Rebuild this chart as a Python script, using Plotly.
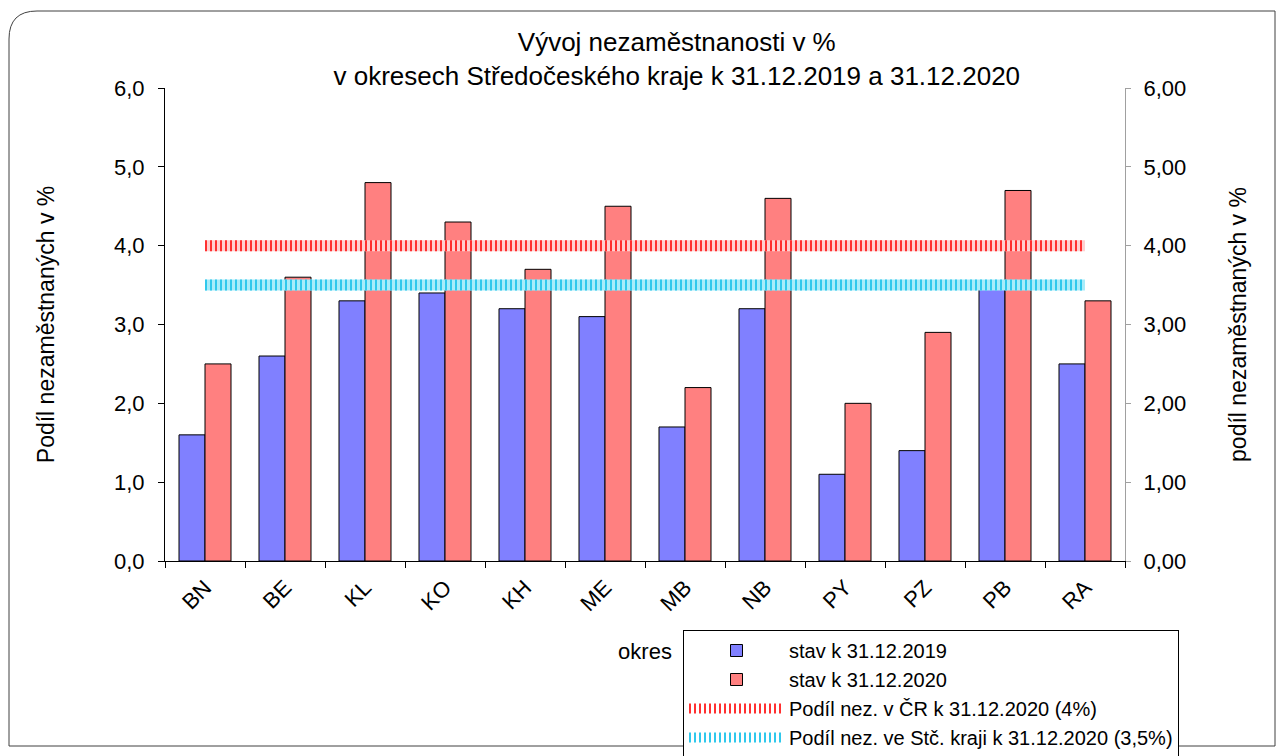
import plotly.graph_objects as go

okresy = ["BN", "BE", "KL", "KO", "KH", "ME", "MB", "NB", "PY", "PZ", "PB", "RA"]
stav_2019 = [1.6, 2.6, 3.3, 3.4, 3.2, 3.1, 1.7, 3.2, 1.1, 1.4, 3.5, 2.5]
stav_2020 = [2.5, 3.6, 4.8, 4.3, 3.7, 4.5, 2.2, 4.6, 2.0, 2.9, 4.7, 3.3]
podil_cr = [4.0] * len(okresy)
podil_stc = [3.5] * len(okresy)

FONT = "Liberation Sans, Arial, sans-serif"

fig = go.Figure()
fig.add_trace(go.Bar(x=okresy, y=stav_2019, name="stav k 31.12.2019",
                     marker=dict(color="#8080FF", line=dict(color="#000000", width=1))))
fig.add_trace(go.Bar(x=okresy, y=stav_2020, name="stav k 31.12.2020",
                     marker=dict(color="#FF8080", line=dict(color="#000000", width=1))))
# red dotted line (base + dots)
fig.add_trace(go.Scatter(x=okresy, y=podil_cr, mode="lines", yaxis="y2", showlegend=False,
                         line=dict(color="#FFD0D0", width=11), hoverinfo="skip"))
fig.add_trace(go.Scatter(x=okresy, y=podil_cr, mode="lines", yaxis="y2",
                         name="Podíl nez. v ČR k 31.12.2020 (4%)",
                         line=dict(color="#FF3030", width=11, dash="2px,3px")))
# cyan dotted line (base + dots)
fig.add_trace(go.Scatter(x=okresy, y=podil_stc, mode="lines", yaxis="y2", showlegend=False,
                         line=dict(color="#A8ECFA", width=11), hoverinfo="skip"))
fig.add_trace(go.Scatter(x=okresy, y=podil_stc, mode="lines", yaxis="y2",
                         name="Podíl nez. ve Stč. kraji k 31.12.2020 (3,5%)",
                         line=dict(color="#30C8EC", width=11, dash="2px,3px")))

L, R, T, B = 165, 159, 88, 195
W, H = 1284, 756
pw, ph = W - L - R, H - T - B

def px(xp):
    return (xp - L) / pw

def py(yp):
    return (H - B - yp) / ph

# rounded outer border
x0, x1, y0, y1, r = 9, 1275, 11, 746, 28
path = (f"M {px(x0+r)},{py(y0)} L {px(x1)},{py(y0)} L {px(x1)},{py(y1)} "
        f"L {px(x0)},{py(y1)} L {px(x0)},{py(y0+r)} "
        f"Q {px(x0)},{py(y0)} {px(x0+r)},{py(y0)} Z")

fig.update_layout(
    width=W, height=H,
    margin=dict(l=L, r=R, t=T, b=B, autoexpand=False),
    paper_bgcolor="white", plot_bgcolor="white",
    font=dict(family=FONT, size=22, color="#000000"),
    separators=", ",
    barmode="group", bargap=0.35, bargroupgap=0,
    title=dict(text="Vývoj nezaměstnanosti v %<br>v okresech Středočeského kraje k 31.12.2019 a 31.12.2020",
               x=px(671), xanchor="center", y=1 - 51 / H, yanchor="middle",
               font=dict(family=FONT, size=26)),
    xaxis=dict(showline=True, linecolor="#000000", linewidth=1, ticks="outside",
               ticklen=6, tickcolor="#000000", tickangle=-45, showgrid=False,
               tickfont=dict(size=22), tickson="boundaries", ticklabelstandoff=4,
               title=dict(text="okres", font=dict(size=22), standoff=28)),
    yaxis=dict(range=[0, 6], dtick=1, tickformat=".1f", showline=True, linecolor="#000000",
               linewidth=1, ticks="outside", ticklen=6, tickcolor="#000000", showgrid=False,
               zeroline=False, tickfont=dict(size=22), ticklabelstandoff=9,
               title=dict(text="Podíl nezaměstnaných v %", font=dict(size=23), standoff=52)),
    yaxis2=dict(range=[0, 6], dtick=1, tickformat=".2f", overlaying="y", side="right",
                showline=True, linecolor="#A0A0A0", linewidth=1, ticks="outside", ticklen=5,
                tickcolor="#A0A0A0", showgrid=False, zeroline=False, tickfont=dict(size=22),
                ticklabelstandoff=8,
                title=dict(text="podíl nezaměstnaných v %", font=dict(size=23), standoff=44)),
    legend=dict(x=px(683), y=py(630), xanchor="left", yanchor="top",
                bordercolor="#000000", borderwidth=1, bgcolor="white",
                font=dict(size=20), itemwidth=95, tracegroupgap=0, traceorder="normal"),
    shapes=[dict(type="path", path=path, xref="paper", yref="paper",
                 line=dict(color="#404040", width=1), layer="below")],
    showlegend=True,
)

fig.write_html("out.html", config={"displayModeBar": False},
               post_script="document.body.style.margin='0';document.body.style.overflow='hidden';")
